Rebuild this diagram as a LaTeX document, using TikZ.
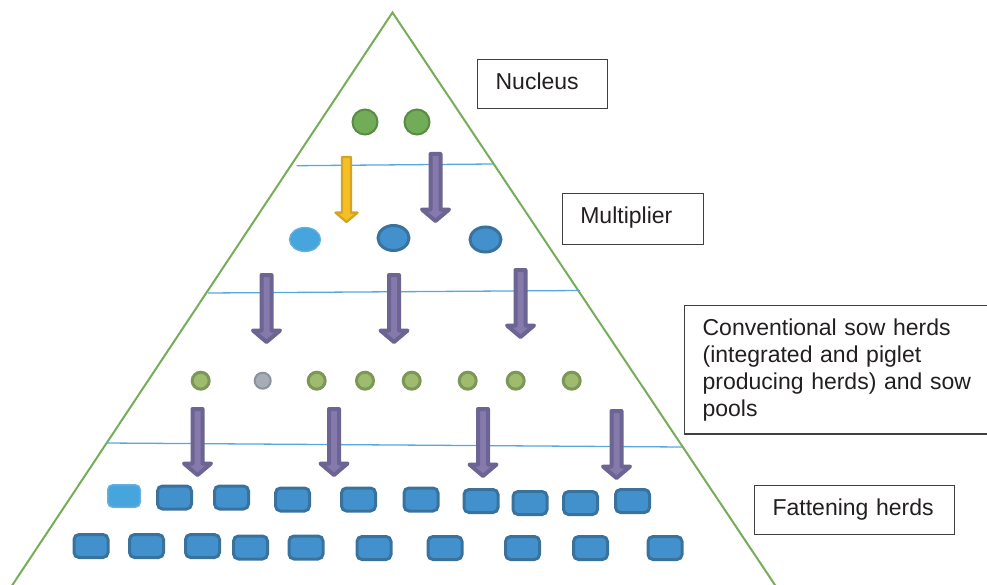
\documentclass[tikz,border=0pt]{standalone}
\usepackage{fontspec}
\setmainfont{Liberation Sans}
\usepackage{tikz}
\usepackage{xcolor}
\definecolor{pyramidgreen}{RGB}{119,172,88}
\definecolor{layerblue}{RGB}{86,168,222}
\definecolor{nucfill}{RGB}{114,172,88}
\definecolor{nucdraw}{RGB}{88,140,66}
\definecolor{yellowfill}{RGB}{246,192,36}
\definecolor{yellowdraw}{RGB}{212,164,36}
\definecolor{purplefill}{RGB}{134,122,172}
\definecolor{purpledraw}{RGB}{108,100,146}
\definecolor{herdfill}{RGB}{66,145,205}
\definecolor{herddraw}{RGB}{58,114,158}
\definecolor{lightfill}{RGB}{70,165,220}
\definecolor{lightdraw}{RGB}{100,176,224}
\definecolor{sowfill}{RGB}{158,187,110}
\definecolor{sowdraw}{RGB}{124,151,87}
\definecolor{grayfill}{RGB}{167,173,181}
\definecolor{graydraw}{RGB}{140,147,156}
\definecolor{boxline}{RGB}{64,64,64}
\definecolor{boxtext}{RGB}{35,31,32}
\usetikzlibrary{shapes.geometric}

% block arrow: style, x, top, tip, shaft half width, head half width
\newcommand{\flowarrow}[6]{%
\draw[#1] (#2-#5,#3) -- (#2+#5,#3) -- (#2+#5,#4-0.85*#6) -- (#2+#6,#4-0.85*#6)
  -- (#2,#4) -- (#2-#6,#4-0.85*#6) -- (#2-#5,#4-0.85*#6) -- cycle;}

\begin{document}
\begin{tikzpicture}[x=1pt, y=-1pt,
  nuc/.style={circle, fill=nucfill, draw=nucdraw, line width=2pt, minimum size=25pt, inner sep=0pt},
  mult/.style={ellipse, fill=herdfill, draw=herddraw, line width=3pt, minimum width=31pt, minimum height=25pt, inner sep=0pt},
  multlight/.style={ellipse, fill=lightfill, draw=lightdraw, line width=1.3pt, minimum width=31pt, minimum height=24pt, inner sep=0pt},
  sow/.style={circle, fill=sowfill, draw=sowdraw, line width=3pt, minimum size=17pt, inner sep=0pt},
  sowgray/.style={circle, fill=grayfill, draw=graydraw, line width=2pt, minimum size=16pt, inner sep=0pt},
  fat/.style={rectangle, rounded corners=5pt, fill=herdfill, draw=herddraw, line width=3pt, minimum width=34pt, minimum height=23pt, inner sep=0pt},
  fatlight/.style={rectangle, rounded corners=5pt, fill=lightfill, draw=lightdraw, line width=1.5pt, minimum width=32.5pt, minimum height=22.5pt, inner sep=0pt},
  purplearrow/.style={fill=purplefill, draw=purpledraw, line width=4pt, line join=round},
  yellowarrow/.style={fill=yellowfill, draw=yellowdraw, line width=2.3pt, line join=round},
  layer/.style={layerblue, line width=1.3pt},
  labelbox/.style={draw=boxline, line width=1.2pt, text=boxtext, font=\fontsize{23}{27}\selectfont,
    align=left, inner xsep=18pt, inner ysep=13pt, anchor=north west},
  oneline/.style={text height=17pt, text depth=6pt}]
\useasboundingbox (0,0) rectangle (987,585);

% pyramid
\coordinate (apex) at (392.5,12.5);
\coordinate (baseL) at (8.4,591);
\coordinate (baseR) at (779,591);
\draw[pyramidgreen, line width=2pt] (baseL) -- (apex) -- (baseR);

% layer lines
\coordinate (l1a) at (296.7,165.7);
\coordinate (l1b) at (493.3,164);
\coordinate (l2a) at (208,293);
\coordinate (l2b) at (580,290.5);
\coordinate (l3a) at (106,443);
\coordinate (l3b) at (682,447);
\draw[layer] (l1a) -- (l1b);
\draw[layer] (l2a) -- (l2b);
\draw[layer] (l3a) -- (l3b);

% nucleus
\node[nuc] (nuc1) at (365,122) {};
\node[nuc] (nuc2) at (417,122) {};

% multiplier
\node[multlight] (mult1) at (305,239.5) {};
\node[mult] (mult2) at (393.5,238) {};
\node[mult] (mult3) at (485.5,239.5) {};

% sow herds
\node[sow] (sow1) at (200.7,380.7) {};
\node[sowgray] (sow2) at (262.7,380.7) {};
\node[sow] (sow3) at (316.7,380.7) {};
\node[sow] (sow4) at (365,380.7) {};
\node[sow] (sow5) at (411.7,380.7) {};
\node[sow] (sow6) at (467.7,380.7) {};
\node[sow] (sow7) at (515.7,380.7) {};
\node[sow] (sow8) at (571.7,380.7) {};

% fattening herds
\node[fatlight] (fat1) at (124,496) {};
\node[fat] (fat2) at (174.5,497.5) {};
\node[fat] (fat3) at (231.5,497.5) {};
\node[fat] (fat4) at (292.5,499.5) {};
\node[fat] (fat5) at (358.5,499.5) {};
\node[fat] (fat6) at (421,499.5) {};
\node[fat] (fat7) at (481,501) {};
\node[fat] (fat8) at (530,503) {};
\node[fat] (fat9) at (580.5,503) {};
\node[fat] (fat10) at (632.5,501) {};
\node[fat] (fat11) at (91,546) {};
\node[fat] (fat12) at (146.5,546) {};
\node[fat] (fat13) at (202.5,546) {};
\node[fat] (fat14) at (250.5,547.5) {};
\node[fat] (fat15) at (306,547.5) {};
\node[fat] (fat16) at (374,548) {};
\node[fat] (fat17) at (445,548) {};
\node[fat] (fat18) at (522.5,548) {};
\node[fat] (fat19) at (590.5,548) {};
\node[fat] (fat20) at (665,548) {};

% arrows
\flowarrow{yellowarrow}{346.5}{157}{222}{4.5}{11}
\flowarrow{purplearrow}{435.5}{154}{221}{5}{13.5}
\flowarrow{purplearrow}{266.5}{275}{342}{5}{13.5}
\flowarrow{purplearrow}{394}{275}{342}{5}{13.5}
\flowarrow{purplearrow}{520.5}{270}{337}{5}{13.5}
\flowarrow{purplearrow}{197.5}{409}{475}{5}{13.5}
\flowarrow{purplearrow}{334}{409}{475}{5}{13.5}
\flowarrow{purplearrow}{483}{409}{476}{5}{13.5}
\flowarrow{purplearrow}{616.5}{411}{478}{5}{13.5}

% labels
\node[labelbox, oneline, text width=94pt] (lblNucleus) at (477,59.3) {Nucleus};
\node[labelbox, oneline, text depth=8.5pt, text width=105pt] (lblMultiplier) at (561.7,192.7) {Multiplier};
\node[labelbox, text width=290pt] (lblSow) at (684,305) {Conventional sow herds\\(integrated and piglet\\producing herds) and sow\\pools};
\node[labelbox, oneline, text width=164pt] (lblFattening) at (754,485) {Fattening herds};
\end{tikzpicture}
\end{document}
